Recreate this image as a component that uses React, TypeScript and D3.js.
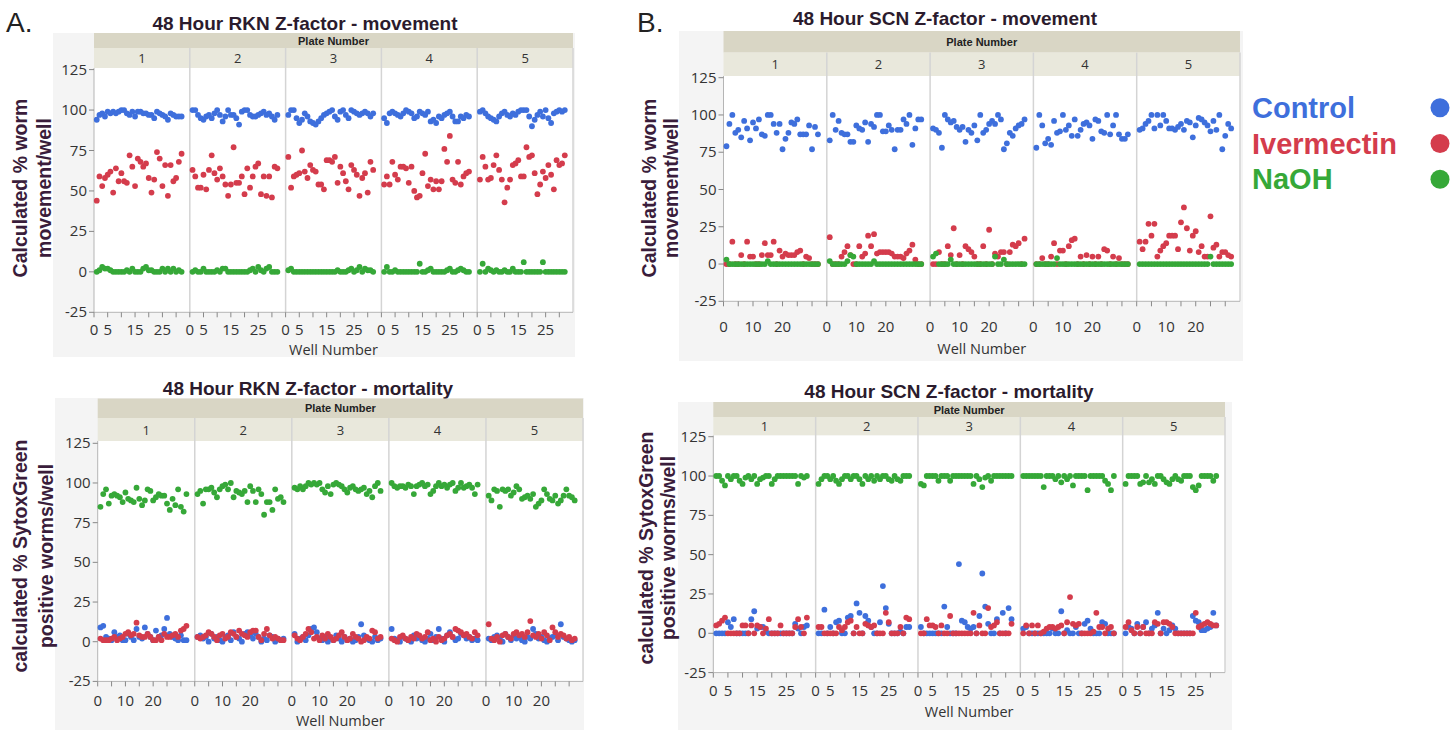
import React from 'react';
import { scaleLinear, scaleBand, range } from 'd3';

const plates = [1, 2, 3, 4, 5];
const wells = range(1, 33);
const seriesNames = ['Control', 'Ivermectin', 'NaOH'];
const seriesColors = ['#3e6fdc', '#d43c4c', '#36a838'];

// 48 Hour RKN - movement
const rknMoveControl = [
  [94,97,98,96,99,98,99,98,99,100,100,98,97,99,96,99,99,98,98,97,97,95,99,98,97,96,94,98,97,96,96,96],
  [100,100,97,95,94,96,97,95,98,100,97,93,96,100,97,97,95,91,99,100,100,97,96,96,97,98,99,97,98,96,94,97],
  [97,100,100,95,92,94,98,96,93,92,91,93,95,97,98,99,100,96,94,99,100,97,95,100,99,98,97,98,99,98,96,98],
  [95,92,98,99,98,97,96,98,100,99,98,95,96,99,98,97,99,93,94,92,96,95,97,98,99,96,93,93,96,95,97,96],
  [99,100,98,96,95,94,93,96,98,99,97,96,98,97,99,100,100,100,96,90,94,97,99,96,100,95,92,98,99,100,99,100],
];
const rknMoveIvermectin = [
  [44,59,53,58,60,62,49,64,56,61,56,55,72,65,53,70,68,65,67,58,49,57,74,70,53,66,47,66,56,58,68,73],
  [63,59,52,52,60,51,63,72,61,57,64,59,54,47,54,77,55,55,59,48,64,52,59,65,67,48,59,47,59,46,65,64],
  [71,52,59,60,61,75,62,58,66,63,62,54,54,51,69,69,68,71,55,65,61,56,51,66,63,60,47,58,61,49,68,63],
  [54,59,54,68,60,57,65,65,64,55,65,50,46,47,61,73,53,57,51,56,51,56,76,68,84,57,55,68,54,59,61,62],
  [57,71,65,57,58,66,72,63,57,43,52,57,66,67,69,59,59,77,71,72,61,48,54,62,58,66,60,51,69,66,67,72],
];
const rknMoveNaOH = [
  [0,1,3,2,2,1,0,0,0,0,0,1,0,2,0,0,0,2,3,1,1,0,0,0,2,0,2,0,2,0,1,0],
  [0,1,0,0,2,0,0,0,0,1,0,2,2,0,0,0,0,0,0,0,0,1,2,0,3,1,0,2,3,0,0,0],
  [1,2,0,0,0,0,0,0,0,0,0,0,0,0,0,0,0,0,1,0,0,0,1,2,0,1,3,0,2,1,1,0],
  [0,3,0,0,1,0,0,0,0,0,0,0,0,5,0,0,1,2,0,0,0,0,0,1,2,0,0,1,2,1,0,0],
  [0,5,0,2,1,0,1,0,0,1,0,0,2,0,0,0,6,0,0,0,0,0,0,6,0,0,0,0,0,0,0,0],
];

// 48 Hour SCN - movement
const scnMoveControl = [
  [79,94,100,88,90,85,96,91,83,95,91,97,87,86,100,100,94,88,94,77,84,88,95,94,97,87,87,87,93,77,92,87],
  [83,100,90,96,88,87,87,82,82,93,91,90,95,82,94,92,100,100,89,89,93,90,77,90,90,97,94,100,80,91,97,97],
  [91,90,88,78,100,97,95,96,92,90,92,82,90,88,93,83,100,88,90,94,96,94,100,97,77,81,88,86,91,93,94,97],
  [78,100,93,81,84,80,96,88,89,100,90,93,86,97,86,90,94,95,93,84,97,96,89,88,100,87,93,100,87,84,84,87],
  [90,91,94,96,100,91,100,93,100,96,91,91,90,92,94,90,96,95,85,93,98,97,95,93,89,96,90,100,77,86,94,91],
];
const scnMoveIvermectin = [
  [0,0,15,0,0,6,0,15,5,5,0,0,6,14,6,6,15,0,9,5,7,6,6,6,8,9,0,5,4,0,0,0],
  [18,0,0,0,5,8,12,6,0,0,12,5,7,19,12,20,7,8,8,8,8,7,5,5,5,4,7,9,13,3,0,0],
  [0,0,8,0,0,12,6,24,0,6,0,12,10,8,5,0,0,12,0,23,0,7,5,8,8,0,8,13,12,14,0,17],
  [0,0,4,0,0,5,14,0,9,9,0,12,16,17,0,5,0,6,0,5,0,5,0,10,9,0,5,0,4,0,0,0],
  [15,10,15,27,19,27,5,9,12,14,19,19,19,10,28,38,24,9,19,22,8,12,5,5,32,11,13,5,8,8,6,5],
];
const scnMoveNaOH = [
  [3,0,0,0,0,0,0,0,0,0,0,0,0,0,2,0,0,0,0,0,0,0,0,0,0,0,0,0,0,0,0,0],
  [2,0,0,0,0,0,2,6,5,0,0,0,0,0,0,2,0,0,0,0,0,0,0,0,0,0,0,0,0,0,0,0],
  [5,7,0,0,0,0,3,0,0,0,0,0,0,0,0,0,0,0,0,0,0,5,0,0,3,0,0,0,0,0,0,0],
  [0,0,0,0,0,0,0,4,0,0,0,0,0,0,0,0,0,0,0,0,0,0,0,0,0,0,0,0,0,0,0,0],
  [0,0,0,0,0,0,0,0,0,0,0,0,0,0,0,0,0,0,0,0,0,0,0,0,5,0,0,0,0,0,0,0],
];

// 48 Hour RKN - mortality
const rknMortControl = [
  [9,10,3,2,1,6,3,4,1,1,5,3,1,8,3,2,9,5,3,1,7,3,4,8,15,5,3,2,1,4,1,1],
  [3,4,2,3,0,5,2,3,1,0,3,4,1,6,3,2,0,5,6,4,2,5,3,0,2,1,4,3,0,2,1,2],
  [5,0,2,3,1,4,8,9,6,2,1,3,0,2,1,4,2,0,3,1,2,0,1,3,11,4,2,1,0,3,1,2],
  [8,2,1,0,3,2,1,0,4,2,3,1,0,2,5,1,3,8,2,0,4,6,3,1,2,5,4,2,3,1,2,1],
  [2,1,3,4,2,0,5,3,1,4,2,3,1,0,3,2,8,5,2,3,1,0,2,3,4,1,11,3,2,1,0,1],
];
const rknMortIvermectin = [
  [2,1,1,1,2,3,1,2,3,5,6,4,5,12,4,3,3,5,3,1,1,3,1,5,3,3,4,5,3,7,8,10],
  [3,2,3,4,6,5,3,1,4,5,2,3,6,5,3,7,5,4,3,6,7,7,3,1,5,8,4,2,3,2,1,1],
  [4,2,1,3,5,8,6,2,3,1,4,2,5,3,1,2,4,6,3,1,2,5,3,2,0,1,3,2,7,6,2,3],
  [2,1,0,3,4,2,1,3,2,5,4,2,3,6,1,2,0,3,1,2,4,5,3,8,7,6,4,5,3,2,6,4],
  [11,2,1,3,0,4,5,3,2,5,6,4,5,3,6,13,4,3,5,2,6,4,1,9,6,3,5,4,2,3,1,2],
];
const rknMortNaOH = [
  [85,93,96,87,92,93,92,91,88,94,90,89,88,97,90,86,89,96,95,89,91,93,92,92,87,83,90,86,96,85,82,93],
  [93,95,87,96,96,97,94,91,96,98,99,96,100,91,95,94,93,95,88,98,95,88,96,93,80,88,88,83,96,90,91,88],
  [97,96,98,96,98,100,99,100,99,100,96,94,98,93,99,100,99,98,96,94,97,98,96,95,96,97,93,95,91,98,100,95],
  [100,98,97,98,98,97,99,98,93,98,99,100,98,99,93,95,98,100,98,99,97,99,100,95,97,100,97,98,99,97,93,99],
  [92,89,96,95,85,96,95,96,92,94,98,96,90,91,92,90,93,85,87,89,96,93,90,89,92,87,89,92,96,92,91,89],
];

// 48 Hour SCN - mortality
const scnMortControl = [
  [0,0,0,0,7,4,9,0,0,0,0,0,9,14,3,4,4,1,0,0,0,0,0,0,0,0,0,6,3,0,4,5],
  [0,0,15,0,4,0,7,8,0,0,10,11,0,19,13,0,11,8,4,0,0,7,30,16,6,0,0,0,1,0,4,4],
  [4,0,0,0,0,0,0,0,17,4,0,0,0,44,8,7,4,3,4,0,11,38,17,6,0,0,9,0,13,0,16,9],
  [3,4,0,0,0,0,0,0,0,0,3,0,0,14,0,2,0,0,4,0,0,6,8,3,0,0,0,7,6,0,0,0],
  [0,4,3,0,6,0,4,7,0,3,5,13,0,3,0,2,5,3,0,0,0,0,0,11,8,7,2,2,3,4,13,5],
];
const scnMortIvermectin = [
  [5,6,8,10,0,0,0,0,0,5,5,0,5,0,5,4,0,3,9,0,0,0,5,0,0,0,0,4,9,4,0,10],
  [4,4,0,0,0,0,0,4,2,4,7,8,0,4,0,0,6,5,4,5,0,0,0,13,7,0,0,0,4,0,10,9],
  [0,0,9,5,5,4,0,5,0,0,11,0,0,0,0,0,0,0,13,0,5,0,0,16,4,5,7,0,0,0,0,6],
  [0,5,0,5,0,5,0,1,3,4,4,3,4,5,0,7,23,6,5,6,0,0,0,0,1,13,4,4,0,3,4,0],
  [4,7,2,0,4,0,4,0,0,0,7,6,0,7,7,6,4,0,0,0,0,0,0,0,13,4,5,6,7,6,5,5],
];
const scnMortNaOH = [
  [100,100,97,94,100,98,100,100,97,95,99,100,98,100,95,98,99,100,100,95,98,100,100,100,100,100,100,100,95,100,99,100],
  [95,98,100,100,98,100,97,95,98,100,100,98,100,100,98,95,100,98,100,97,100,98,100,100,98,97,100,98,97,100,100,100],
  [95,94,100,100,100,100,97,100,100,100,97,100,100,100,100,100,100,100,95,100,98,93,99,100,97,100,100,100,100,100,100,100],
  [100,100,100,100,100,100,100,93,100,100,100,98,100,96,100,98,100,94,100,100,100,100,91,100,100,100,100,100,97,95,91,100],
  [95,100,100,100,100,95,96,100,96,98,95,100,100,98,96,95,98,100,98,97,100,100,100,93,91,94,100,100,100,100,97,100],
];

const yTicks = [-25, 0, 25, 50, 75, 100, 125];

const panels = [
  {
    key: 'rknMove', title: '48 Hour RKN Z-factor  - movement', titleX: 305, titleY: 30,
    letter: 'A.', letterX: 6, letterY: 32,
    bg: [53, 33, 522, 324], plotL: 94, plotR: 573, yTop: 69.6, yBot: 312.3,
    hTop: 33, hMid: 48, hBot: 68,
    yLabel: ['Calculated % worm', 'movement/well'], yLabelX: [20, 44], yLabelY: 188,
    xLabelY: 335, wellY: 355, xTickLabels: [0, 5, 15, 25],
    series: [rknMoveControl, rknMoveIvermectin, rknMoveNaOH],
  },
  {
    key: 'scnMove', title: '48 Hour SCN Z-factor - movement', titleX: 945, titleY: 25,
    letter: 'B.', letterX: 637, letterY: 32,
    bg: [679, 31, 564, 330], plotL: 723.5, plotR: 1240, yTop: 77.7, yBot: 301.3,
    hTop: 31, hMid: 52.6, hBot: 76,
    yLabel: ['Calculated % worm', 'movement/well'], yLabelX: [649, 671], yLabelY: 188,
    xLabelY: 332, wellY: 354, xTickLabels: [0, 10, 20],
    series: [scnMoveControl, scnMoveIvermectin, scnMoveNaOH],
  },
  {
    key: 'rknMort', title: '48 Hour RKN Z-factor  - mortality', titleX: 308, titleY: 395,
    bg: [55, 398, 529, 332], plotL: 97.7, plotR: 583, yTop: 443.3, yBot: 681.4,
    hTop: 398.5, hMid: 418, hBot: 441,
    yLabel: ['calculated % SytoxGreen', 'positive worms/well'], yLabelX: [20, 46], yLabelY: 556,
    xLabelY: 706, wellY: 726, xTickLabels: [0, 10, 20],
    series: [rknMortControl, rknMortIvermectin, rknMortNaOH],
  },
  {
    key: 'scnMort', title: '48 Hour SCN Z-factor  - mortality', titleX: 949, titleY: 398,
    bg: [678, 402, 554, 328], plotL: 713.3, plotR: 1225, yTop: 436.7, yBot: 672.6,
    hTop: 402, hMid: 417, hBot: 435.5,
    yLabel: ['calculated % SytoxGreen', 'positive worms/well'], yLabelX: [646, 668], yLabelY: 548,
    xLabelY: 696, wellY: 717, xTickLabels: [0, 5, 15, 25],
    series: [scnMortControl, scnMortIvermectin, scnMortNaOH],
  },
];

const tickFont = '"Open Sans", "DejaVu Sans", sans-serif';
const boldFont = '"Liberation Sans", Arial, sans-serif';

function Panel({ p }: { p: any }) {
  const y = scaleLinear().domain([-25, 125]).range([p.yBot, p.yTop]);
  const plateX = scaleBand<number>().domain(plates).range([p.plotL, p.plotR]);
  const bw = plateX.bandwidth();
  const wx = scaleLinear().domain([0, 35]).range([0, bw]);
  const midX = (p.plotL + p.plotR) / 2;
  return (
    <g>
      <rect x={p.bg[0]} y={p.bg[1]} width={p.bg[2]} height={p.bg[3]} fill="#f4f4f4" />
      <text x={p.titleX} y={p.titleY} textAnchor="middle" fontFamily={boldFont} fontWeight="bold"
        fontSize={19} fill="#2b1b2d">{p.title}</text>
      {p.letter && (
        <text x={p.letterX} y={p.letterY} fontFamily={boldFont} fontSize={28} fill="#222">{p.letter}</text>
      )}
      {/* header bars */}
      <rect x={p.plotL} y={p.hTop} width={p.plotR - p.plotL} height={p.hMid - p.hTop} fill="#d9d6c5" />
      <text x={midX} y={(p.hTop + p.hMid) / 2 + 4} textAnchor="middle" fontFamily={boldFont}
        fontWeight="bold" fontSize={11} fill="#222">Plate Number</text>
      <rect x={p.plotL} y={p.hMid} width={p.plotR - p.plotL} height={p.hBot - p.hMid} fill="#e9e8dc" />
      <rect x={p.plotL} y={p.hBot} width={p.plotR - p.plotL} height={p.yBot - p.hBot} fill="#ffffff" />
      {plates.map(pl => (
        <g key={pl}>
          <text x={plateX(pl)! + bw / 2} y={(p.hMid + p.hBot) / 2 + 5} textAnchor="middle"
            fontFamily={tickFont} fontSize={13} fill="#333">{pl}</text>
          {pl > 1 && (
            <line x1={plateX(pl)} x2={plateX(pl)} y1={p.hMid} y2={p.yBot} stroke="#d4d4d4" strokeWidth={1.5} />
          )}
        </g>
      ))}
      <line x1={p.plotR} x2={p.plotR} y1={p.hMid} y2={p.yBot} stroke="#d4d4d4" strokeWidth={1.5} />
      {/* y axis */}
      <line x1={p.plotL} x2={p.plotL} y1={p.hBot} y2={p.yBot} stroke="#b5b5b5" />
      {yTicks.map(t => (
        <g key={t} transform={`translate(${p.plotL},${y(t)})`}>
          <line x1={-5} x2={0} stroke="#888" />
          <text x={-7} y={5} textAnchor="end" fontFamily={tickFont} fontSize={15} fill="#333">{t}</text>
        </g>
      ))}
      {/* x axis */}
      <line x1={p.plotL} x2={p.plotR} y1={p.yBot} y2={p.yBot} stroke="#b5b5b5" />
      {plates.map(pl => (
        <g key={pl} transform={`translate(${plateX(pl)},${p.yBot})`}>
          {[0, 5, 10, 15, 20, 25, 30].map(t => (
            <line key={t} x1={wx(t)} x2={wx(t)} y1={0} y2={5} stroke="#888" />
          ))}
          {p.xTickLabels.map((t: number) => (
            <text key={t} x={wx(t)} y={p.xLabelY - p.yBot} textAnchor="middle" fontFamily={tickFont}
              fontSize={15} fill="#333">{t}</text>
          ))}
        </g>
      ))}
      <text x={midX} y={p.wellY} textAnchor="middle" fontFamily={tickFont} fontSize={14.5} fill="#333">Well Number</text>
      {/* y label */}
      {p.yLabel.map((s: string, i: number) => (
        <text key={i} transform={`translate(${p.yLabelX[i] + 7},${p.yLabelY}) rotate(-90)`} textAnchor="middle"
          fontFamily={boldFont} fontWeight="bold" fontSize={19.5} fill="#3a1d3b">{s}</text>
      ))}
      {/* points */}
      {p.series.map((ser: number[][], si: number) => (
        <g key={si} fill={seriesColors[si]}>
          {plates.map((pl, pi) => ser[pi].map((v, wi) => (
            <circle key={pl + '-' + wi} cx={plateX(pl)! + wx(wells[wi])} cy={y(v)} r={2.9} />
          )))}
        </g>
      ))}
    </g>
  );
}

function Legend() {
  const ly = scaleBand<string>().domain(seriesNames).range([90, 197]);
  return (
    <g>
      {seriesNames.map((s, i) => (
        <g key={s}>
          <text x={1252} y={ly(s)! + ly.bandwidth() / 2 + 10} fontFamily={boldFont} fontWeight="bold"
            fontSize={29} fill={seriesColors[i]}>{s}</text>
          <circle cx={1440} cy={ly(s)! + ly.bandwidth() / 2} r={9.5} fill={seriesColors[i]} />
        </g>
      ))}
    </g>
  );
}

export default function App() {
  return (
    <svg width={1456} height={730} style={{ display: 'block', position: 'absolute', left: 0, top: 0, background: '#fff' }}>
      {panels.map(p => <Panel key={p.key} p={p} />)}
      <Legend />
    </svg>
  );
}
